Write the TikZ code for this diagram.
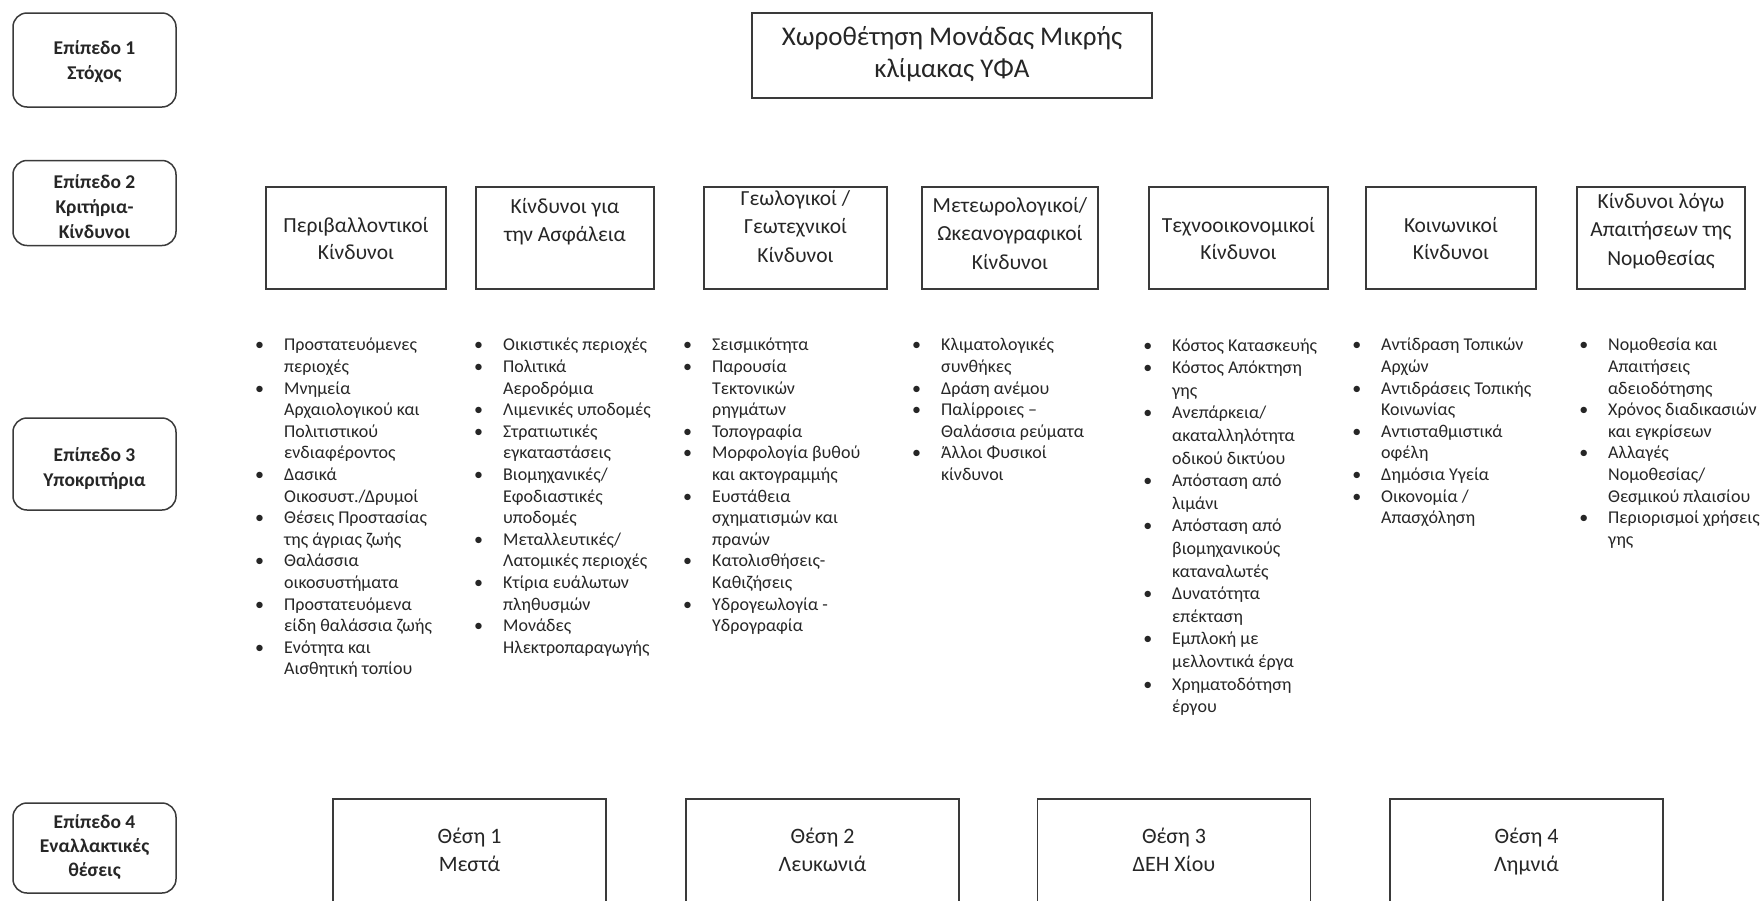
\documentclass[tikz,border=0pt]{standalone}
\usepackage{fontspec}
\setmainfont{Carlito}
\definecolor{ink}{HTML}{262626}
\definecolor{edge}{HTML}{3A3A3A}

\tikzset{
  frame/.style={draw=edge, line width=1.5, inner sep=0},
  level/.style={frame, rounded corners=14, minimum width=163},
  leveltext/.style={align=center, inner sep=0, text=ink,
    font=\fontsize{19.5}{25}\selectfont\bfseries},
  crit/.style={frame, minimum height=102},
  crittext/.style={align=center, inner sep=0, text=ink,
    font=\fontsize{21.5}{27}\selectfont},
  crittall/.style={crittext, font=\fontsize{21.5}{28.5}\selectfont},
  goal/.style={frame, minimum width=400, minimum height=85, align=center, text=ink,
    font=\fontsize{27}{32}\selectfont},
  site/.style={frame, minimum width=273, minimum height=106, align=center, text=ink,
    font=\fontsize{22}{28}\selectfont},
  sublist/.style={anchor=north west, align=left, inner sep=0, text=ink,
    font=\fontsize{18}{21.6}\selectfont},
}
% bullet hanging to the left of an item's first line
\newcommand\itm{\strut\makebox[0pt][r]{\textbullet\hspace{20pt}}}

\begin{document}
\begin{tikzpicture}[x=1pt, y=-1pt]
\useasboundingbox[fill=white] (0,0) rectangle (1760,900);
\clip (0,0) rectangle (1760,900);

% level labels on the left
\node[level, minimum height=94] (l1) at (94.5,60)  {};
\node[level, minimum height=85] (l2) at (94.5,203) {};
\node[level, minimum height=92] (l3) at (94.5,464) {};
\node[level, minimum height=90] (l4) at (94.5,848) {};
\node[leveltext] (l1t) at ([yshift=-2]l1.center) {\strut Επίπεδο 1\\Στόχος\strut};
\node[leveltext] (l2t) at ([yshift=-5]l2.center) {\strut Επίπεδο 2\\Κριτήρια-\\Κίνδυνοι\strut};
\node[leveltext] (l3t) at ([yshift=-5]l3.center) {\strut Επίπεδο 3\\Υποκριτήρια\strut};
\node[leveltext, font=\fontsize{19.5}{24}\selectfont\bfseries] (l4t) at (l4.center)
  {\strut Επίπεδο 4\\Εναλλακτικές\\θέσεις\strut};

% level 1: goal
\node[goal] (goal) at (952,55.5) {\strut Χωροθέτηση Μονάδας Μικρής\\κλίμακας ΥΦΑ\strut};

% level 2: criteria boxes and their titles
\node[crit, minimum width=180] (c1) at (356,238)    {};
\node[crit, minimum width=178] (c2) at (565,238)    {};
\node[crit, minimum width=183] (c3) at (795.5,238)  {};
\node[crit, minimum width=176] (c4) at (1010,238)   {};
\node[crit, minimum width=179] (c5) at (1238.5,238) {};
\node[crit, minimum width=170] (c6) at (1451,238)   {};
\node[crit, minimum width=168] (c7) at (1661,238)   {};

\node[crittext] (c1t) at ([yshift=-3]c1.center)  {\strut Περιβαλλοντικοί\\Κίνδυνοι\strut};
\node[crittext, font=\fontsize{21.5}{28}\selectfont] (c2t) at ([yshift=16.5]c2.center)
  {\strut Κίνδυνοι για\\την Ασφάλεια\strut};
\node[crittall] (c3t) at ([yshift=10]c3.center)  {\strut Γεωλογικοί /\\Γεωτεχνικοί\\Κίνδυνοι\strut};
\node[crittall] (c4t) at ([yshift=3]c4.center)   {\strut Μετεωρολογικοί/\\Ωκεανογραφικοί\\Κίνδυνοι\strut};
\node[crittext] (c5t) at ([yshift=-3]c5.center)  {\strut Τεχνοοικονομικοί\\Κίνδυνοι\strut};
\node[crittext] (c6t) at ([yshift=-3]c6.center)  {\strut Κοινωνικοί\\Κίνδυνοι\strut};
\node[crittall] (c7t) at ([yshift=7]c7.center)   {\strut Κίνδυνοι λόγω\\Απαιτήσεων της\\Νομοθεσίας\strut};

% level 3: sub-criteria
\node[sublist] (s1) at (284,335.5) {\itm Προστατευόμενες\\περιοχές\\
  \itm Μνημεία\\Αρχαιολογικού και\\Πολιτιστικού\\ενδιαφέροντος\\
  \itm Δασικά\\Οικοσυστ./Δρυμοί\\
  \itm Θέσεις Προστασίας\\της άγριας ζωής\\
  \itm Θαλάσσια\\οικοσυστήματα\\
  \itm Προστατευόμενα\\είδη θαλάσσια ζωής\\
  \itm Ενότητα και\\Αισθητική τοπίου};
\node[sublist] (s2) at (503,335.5) {\itm Οικιστικές περιοχές\\
  \itm Πολιτικά\\Αεροδρόμια\\
  \itm Λιμενικές υποδομές\\
  \itm Στρατιωτικές\\εγκαταστάσεις\\
  \itm Βιομηχανικές/\\Εφοδιαστικές\\υποδομές\\
  \itm Μεταλλευτικές/\\Λατομικές περιοχές\\
  \itm Κτίρια ευάλωτων\\πληθυσμών\\
  \itm Μονάδες\\Ηλεκτροπαραγωγής};
\node[sublist] (s3) at (712,335.5) {\itm Σεισμικότητα\\
  \itm Παρουσία\\Τεκτονικών\\ρηγμάτων\\
  \itm Τοπογραφία\\
  \itm Μορφολογία βυθού\\και ακτογραμμής\\
  \itm Ευστάθεια\\σχηματισμών και\\πρανών\\
  \itm Κατολισθήσεις-\\Καθιζήσεις\\
  \itm Υδρογεωλογία -\\Υδρογραφία};
\node[sublist] (s4) at (941,335.5) {\itm Κλιματολογικές\\συνθήκες\\
  \itm Δράση ανέμου\\
  \itm Παλίρροιες –\\Θαλάσσια ρεύματα\\
  \itm Άλλοι Φυσικοί\\κίνδυνοι};
\node[sublist, font=\fontsize{18}{22.6}\selectfont] (s5) at (1172,335) {\itm Κόστος Κατασκευής\\
  \itm Κόστος Απόκτηση\\γης\\
  \itm Ανεπάρκεια/\\ακαταλληλότητα\\οδικού δικτύου\\
  \itm Απόσταση από\\λιμάνι\\
  \itm Απόσταση από\\βιομηχανικούς\\καταναλωτές\\
  \itm Δυνατότητα\\επέκταση\\
  \itm Εμπλοκή με\\μελλοντικά έργα\\
  \itm Χρηματοδότηση\\έργου};
\node[sublist] (s6) at (1381,335.5) {\itm Αντίδραση Τοπικών\\Αρχών\\
  \itm Αντιδράσεις Τοπικής\\Κοινωνίας\\
  \itm Αντισταθμιστικά\\οφέλη\\
  \itm Δημόσια Υγεία\\
  \itm Οικονομία /\\Απασχόληση};
\node[sublist] (s7) at (1608,335.5) {\itm Νομοθεσία και\\Απαιτήσεις\\αδειοδότησης\\
  \itm Χρόνος διαδικασιών\\και εγκρίσεων\\
  \itm Αλλαγές\\Νομοθεσίας/\\Θεσμικού πλαισίου\\
  \itm Περιορισμοί χρήσεις\\γης};

% level 4: alternative sites
\node[site] (t1) at (469.5,852)  {\strut Θέση 1\\Μεστά\strut};
\node[site] (t2) at (822.5,852)  {\strut Θέση 2\\Λευκωνιά\strut};
\node[site] (t3) at (1174,852)   {\strut Θέση 3\\ΔΕΗ Χίου\strut};
\node[site] (t4) at (1526.5,852) {\strut Θέση 4\\Λημνιά\strut};
\end{tikzpicture}
\end{document}
